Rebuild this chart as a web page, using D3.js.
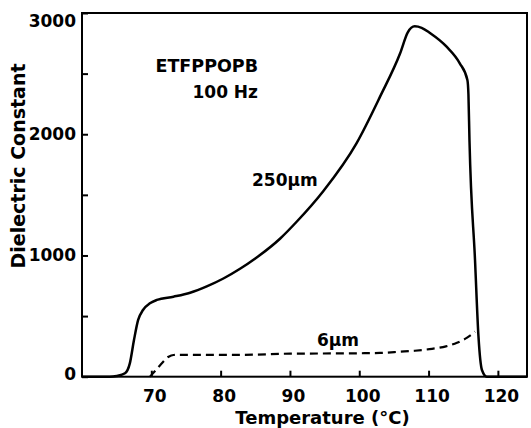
<!DOCTYPE html>
<html>
<head>
<meta charset="utf-8">
<script src="https://cdn.jsdelivr.net/npm/d3@7"></script>
<style>
  body { margin: 0; background: #fff; }
  svg { display: block; }
  text { font-family: 'DejaVu Sans', sans-serif; font-weight: bold; fill: #000; }
</style>
</head>
<body>
<svg id="vis" width="531" height="428"></svg>
<script>
// thick film (250 um)
const temp250 = [60, 64, 65, 66.2, 66.9, 67.5, 68.1, 68.8, 69.8, 70.8, 73.2, 75.6, 78.0, 80.4, 82.8, 85, 88.6, 91, 94.8, 99.6, 103.0, 105.9, 107.0, 108.0, 109.0, 110.2, 112.6, 114.5, 115.6, 115.75, 115.9, 116.7, 117.2, 117.7, 118.4, 124.2];
const eps250 = [0, 0, 6, 28, 110, 303, 468, 550, 605, 633, 660, 693, 745, 810, 890, 975, 1140, 1280, 1530, 1925, 2310, 2668, 2840, 2890, 2878, 2835, 2722, 2585, 2447, 2330, 1952, 963, 330, 55, 0, 0];

// thin film (6 um)
const temp6 = [69.8, 70.5, 71.3, 72.5, 73.2, 75, 82.8, 90, 99.6, 103, 105.9, 108, 110.5, 112.5, 114.1, 115.5, 116.7];
const eps6 = [0, 45, 97, 165, 179, 180, 180, 190, 193, 196, 206, 214, 230, 250, 280, 320, 371];

const xTicks = [70, 80, 90, 100, 110, 120];
const yTicks = [0, 500, 1000, 1500, 2000, 2500, 3000];
const yLabelled = [0, 1000, 2000, 3000];

const svg = d3.select('#vis');
const m = { left: 82, right: 527, top: 13, bottom: 376.7 };

const xScale = d3.scaleLinear().domain([60, 124.2]).range([m.left, m.right]);
const yScale = d3.scaleLinear().domain([0, 3000]).range([m.bottom, m.top]);

// axes, ticks pointing inward
svg.append('g')
    .attr('transform', 'translate(0,' + m.bottom + ')')
    .call(d3.axisBottom(xScale).tickValues(xTicks).tickSize(-6).tickPadding(13))
    .call(g => g.select('.domain').remove())
    .call(g => g.selectAll('line').attr('stroke-width', 2))
    .call(g => g.selectAll('text').attr('font-size', '17px').attr('dx', 3));

svg.append('g')
    .attr('transform', 'translate(' + m.left + ',0)')
    .call(d3.axisLeft(yScale).tickValues(yTicks).tickSize(-6).tickPadding(6)
        .tickFormat(d => yLabelled.includes(d) ? d : ''))
    .call(g => g.select('.domain').remove())
    .call(g => g.selectAll('line').attr('stroke-width', 2))
    .call(g => g.selectAll('text').attr('font-size', '17px'))
    .call(g => g.selectAll('.tick').filter(d => d === 3000).select('text').attr('dy', '0.8em'))
    .call(g => g.selectAll('.tick').filter(d => d === 0).select('text').attr('dy', '0.15em'));

// frame
svg.append('rect')
    .attr('x', m.left).attr('y', m.top)
    .attr('width', m.right - m.left).attr('height', m.bottom - m.top)
    .attr('fill', 'none').attr('stroke', '#000').attr('stroke-width', 2);

const line = d3.line()
    .x(d => xScale(d[0]))
    .y(d => yScale(d[1]))
    .curve(d3.curveMonotoneX);

svg.append('path')
    .datum(d3.zip(temp250, eps250))
    .attr('d', line)
    .attr('fill', 'none')
    .attr('stroke', '#000')
    .attr('stroke-width', 2.5);

svg.append('path')
    .datum(d3.zip(temp6, eps6))
    .attr('d', line)
    .attr('fill', 'none')
    .attr('stroke', '#000')
    .attr('stroke-width', 2.2)
    .attr('stroke-dasharray', '8,5');

// annotations
svg.append('text').attr('x', 258).attr('y', 72).attr('text-anchor', 'end')
    .attr('font-size', '17.5px').text('ETFPPOPB');
svg.append('text').attr('x', 258).attr('y', 98).attr('text-anchor', 'end')
    .attr('font-size', '17px').text('100 Hz');
svg.append('text').attr('x', 252).attr('y', 186)
    .attr('font-size', '17px').text('250μm');
svg.append('text').attr('x', 317).attr('y', 346)
    .attr('font-size', '17px').text('6μm');

// axis titles
svg.append('text')
    .attr('x', (m.left + m.right) / 2 + 18)
    .attr('y', 424)
    .attr('font-size', '18px')
    .attr('text-anchor', 'middle')
    .text('Temperature (°C)');

svg.append('text')
    .attr('transform', 'translate(25,166) rotate(-90)')
    .attr('font-size', '19px')
    .attr('text-anchor', 'middle')
    .text('Dielectric Constant');
</script>
</body>
</html>
